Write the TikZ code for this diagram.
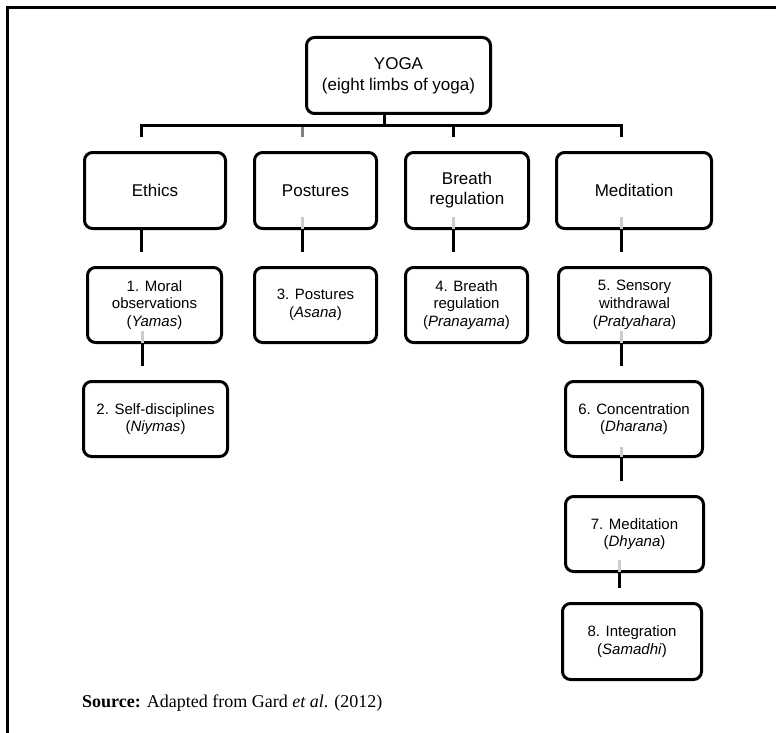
\documentclass[tikz,border=0pt]{standalone}
\usepackage{fontspec}
\setmainfont{Liberation Serif}
\newfontfamily\boxfont{Liberation Sans}
\begin{document}
\begin{tikzpicture}[x=1pt,y=-1pt,
  box/.style={draw, line width=3pt, rounded corners=8pt, inner sep=0pt, align=center},
  rootbox/.style={box, font=\boxfont\fontsize{17}{21}\selectfont},
  limb/.style={box, font=\boxfont\fontsize{17}{20}\selectfont, minimum height=76pt},
  stage/.style={box, font=\boxfont\fontsize{15}{17.7}\selectfont, minimum height=75pt},
  link/.style={line width=3pt},
  ghost/.style={line width=3pt, draw=black!20},
]
\useasboundingbox (0,0) rectangle (776,733);

% page frame (left and top rules)
\draw[line width=3pt] (7,740) -- (7,8) -- (780,8);

% root
\node[rootbox, minimum width=184pt, minimum height=76pt] (yoga) at (398.5,75.5)
  {YOGA\\(eight limbs of yoga)};

% the four groups
\node[limb, minimum width=141pt] (eth) at (155,190.5) {Ethics};
\node[limb, minimum width=122pt] (pos) at (315.5,190.5) {Postures};
\node[limb, minimum width=123pt] (bre) at (467,190.5) {Breath\\regulation};
\node[limb, minimum width=155pt] (med) at (634,190.5) {Meditation};

% the eight limbs
\node[stage, minimum width=134pt] (m1) at (154.5,305) {1. Moral\\observations\\(\textit{Yamas})};
\node[stage, minimum width=122pt] (m3) at (315.5,305) {3. Postures\\(\textit{Asana})};
\node[stage, minimum width=122pt] (m4) at (466.5,305) {4. Breath\\regulation\\(\textit{Pranayama})};
\node[stage, minimum width=152pt] (m5) at (634.5,305) {5. Sensory\\withdrawal\\(\textit{Pratyahara})};
\node[stage, minimum width=144pt] (m2) at (155.5,419) {2. Self-disciplines\\(\textit{Niymas})};
\node[stage, minimum width=137pt] (m6) at (634,419) {6. Concentration\\(\textit{Dharana})};
\node[stage, minimum width=138pt] (m7) at (634.5,534) {7. Meditation\\(\textit{Dhyana})};
\node[stage, minimum width=139pt, minimum height=76pt] (m8) at (632,641.5) {8. Integration\\(\textit{Samadhi})};

% bus below the root
\coordinate (hub) at ([xshift=-14.5pt,yshift=-11pt]yoga.south);
\draw[link] ([xshift=-14.5pt]yoga.south) -- (hub);
\draw[link] ([xshift=-14pt,yshift=14pt]eth.north)
  -- ([xshift=-14pt]eth.north |- hub)
  -- ([xshift=-13pt]med.north |- hub)
  -- ([xshift=-13pt,yshift=14pt]med.north);
\draw[link] ([xshift=-14pt]bre.north |- hub) -- ([xshift=-14pt,yshift=14pt]bre.north);
\draw[link, draw=black!50] ([xshift=-13.5pt,yshift=-1.5pt]pos.north |- hub) -- ([xshift=-13.5pt,yshift=14pt]pos.north);

% group-to-limb and limb-to-limb links
\draw[link] ([xshift=-14pt]eth.south) -- ([xshift=-14pt,yshift=14pt]eth.south |- m1.north);
\draw[link] ([xshift=-13.5pt]pos.south) -- ([xshift=-13.5pt,yshift=14pt]pos.south |- m3.north);
\draw[link] ([xshift=-14pt]bre.south) -- ([xshift=-14pt,yshift=14pt]bre.south |- m4.north);
\draw[link] ([xshift=-13pt]med.south) -- ([xshift=-13pt,yshift=14pt]med.south |- m5.north);
\draw[link] ([xshift=-12.5pt]m1.south) -- ([xshift=-12.5pt,yshift=14pt]m1.south |- m2.north);
\draw[link] ([xshift=-13.5pt]m5.south) -- ([xshift=-13.5pt,yshift=14pt]m5.south |- m6.north);
\draw[link] ([xshift=-13pt]m6.south) -- ([xshift=-13pt,yshift=14pt]m6.south |- m7.north);
\draw[link] ([xshift=-15.5pt]m7.south) -- ([xshift=-15.5pt,yshift=14pt]m7.south |- m8.north);

% faint traces inside the boxes above the links
\draw[ghost] ([xshift=-13.5pt,yshift=1.5pt]pos.south) -- ++(0,-12);
\draw[ghost] ([xshift=-14pt,yshift=1.5pt]bre.south) -- ++(0,-12);
\draw[ghost] ([xshift=-13pt,yshift=1.5pt]med.south) -- ++(0,-12);
\draw[ghost] ([xshift=-12.5pt,yshift=1.5pt]m1.south) -- ++(0,-12);
\draw[ghost] ([xshift=-13.5pt,yshift=1.5pt]m5.south) -- ++(0,-12);
\draw[ghost] ([xshift=-13pt,yshift=1.5pt]m6.south) -- ++(0,-10);
\draw[ghost] ([xshift=-15.5pt,yshift=1.5pt]m7.south) -- ++(0,-12);

% source line
\node[anchor=base west, inner sep=0pt, font=\fontsize{18}{21}\selectfont] (src) at (82,707)
  {\textbf{Source:} Adapted from Gard \textit{et al}. (2012)};
\end{tikzpicture}
\end{document}
